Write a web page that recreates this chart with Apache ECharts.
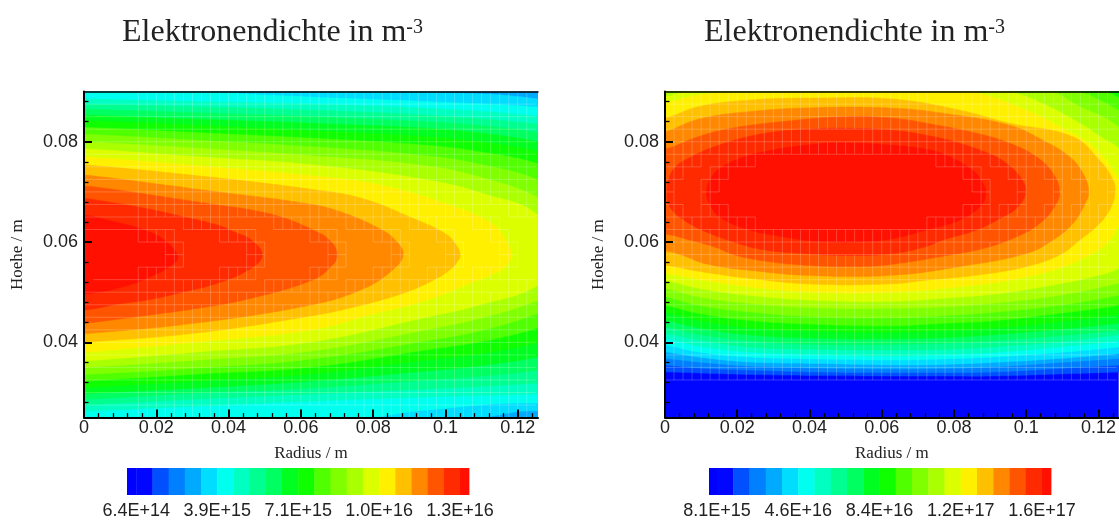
<!DOCTYPE html>
<html><head><meta charset="utf-8">
<style>html,body{margin:0;padding:0;background:#fff}#c{width:1119px;height:522px}</style>
<script src="https://cdn.jsdelivr.net/npm/echarts@6/dist/echarts.min.js"></script>
</head><body><div id="c"></div>
<script>
// ---- colour bands, lowest to highest ----
const bandColors = ['#0000ff','#0006ff','#0050ff','#0080ff','#00aaff','#00ddff','#00ffee','#00ffc0','#00ff90','#00ff60','#00ff20','#10ff00','#50ff00','#80ff00','#aaff00','#dcff00','#fff000','#ffc000','#ff8800','#ff5500','#ff2a00','#ff1000'];
// contour levels (m^-3): one level starts each band above band 0
const leftLevels = [6.42e14,1.284e15,1.926e15,2.568e15,3.21e15,3.852e15,4.494e15,5.136e15,5.778e15,6.42e15,7.062e15,7.704e15,8.346e15,8.988e15,9.63e15,1.0272e16,1.0914e16,1.1556e16,1.2198e16,1.284e16,1.348e16];
const rightLevels = [8.1e15,1.57e16,2.33e16,3.09e16,3.85e16,4.61e16,5.37e16,6.13e16,6.89e16,7.65e16,8.41e16,9.17e16,9.93e16,1.069e17,1.145e17,1.221e17,1.297e17,1.373e17,1.449e17,1.525e17,1.601e17];
const leftLegendRange = [2.75e14,1.3836e16];
const rightLegendRange = [4.36e15,1.643e17];
const xMajorTicks = [0,0.02,0.04,0.06,0.08,0.1,0.12];
const xMinorTicks = [0.004,0.008,0.012,0.016,0.024,0.028,0.032,0.036,0.044,0.048,0.052,0.056,0.064,0.068,0.072,0.076,0.084,0.088,0.092,0.096,0.104,0.108,0.112,0.116,0.124];
const yMajorTicks = [0.04,0.06,0.08];
const yMinorTicks = [0.028,0.032,0.036,0.044,0.048,0.052,0.056,0.064,0.068,0.072,0.076,0.084,0.088];

// ---- contour outlines: [radius mm, height mm] ----
const leftL05=[[0,92],[60,91],[93,90],[125.6,88.5],[132,86],[132,24],[125.6,26.3],[110.4,25],[90,23],[0,23]];
const leftL06=[[0,92],[20,91],[33.6,90],[63.1,88.9],[94.7,88],[125.6,86.9],[132,86],[132,26],[125.6,27.9],[94.7,26.5],[80,25],[60,23],[0,23]];
const leftL07=[[0,88.5],[31.6,88],[63.1,87.5],[94.7,86.7],[125.6,85.1],[132,84],[132,30],[125.6,29.7],[94.7,29.1],[63.1,28.3],[31.6,27.3],[0,26.3]];
const leftL08=[[0,87.5],[31.6,87],[63.1,86.3],[94.7,85.3],[125.6,83.5],[132,82.3],[132,32.5],[125.6,31.9],[94.7,30.7],[63.1,29.7],[31.6,28.7],[0,27.5]];
const leftL09=[[0,86.5],[31.6,85.8],[63.1,85],[94.7,84],[110.2,83.2],[125.6,81.8],[132,80.5],[132,36],[125.6,34.5],[110.2,33.3],[94.7,32.5],[63.1,30.9],[31.6,29.9],[0,28.6]];
const leftL10=[[0,85.3],[31.6,84.5],[63.1,83.7],[94.7,82.7],[110.2,81.7],[125.6,80],[132,78.5],[132,38.5],[125.6,37.1],[110.2,35.4],[94.7,34.3],[63.1,32.3],[31.6,30.9],[0,29.8]];
const leftL11=[[0,84.2],[31.6,83.3],[63.1,82.2],[94.7,81],[110.2,79.9],[125.6,78],[132,76],[132,41.5],[125.6,39.9],[110.2,37.8],[94.7,36.5],[63.1,33.7],[31.6,32.3],[0,31]];
const leftL12=[[0,82.9],[31.6,81.8],[63.1,80.7],[94.7,79.3],[110.2,77.9],[125.6,75.6],[132,73],[132,45],[125.6,42.9],[110.2,40.2],[94.7,38.5],[63.1,35.1],[31.6,33.7],[0,32.3]];
const leftL13=[[0,81.5],[31.6,80.3],[63.1,79],[94.7,77.2],[110.2,75.4],[125.6,72.4],[132,69],[132,48],[125.6,45.8],[110.2,42.4],[94.7,40.3],[63.1,36.7],[31.6,34.9],[0,33.6]];
const leftL14=[[0,80],[31.6,78.7],[63.1,77.2],[94.7,75.2],[110.2,72.8],[125.6,68.9],[132,65],[132,51],[125.6,48.4],[110.2,44.9],[94.7,42.5],[63.1,38.3],[31.6,36.5],[0,35]];
const leftL15=[[0,78.6],[31.6,77],[63.1,75.4],[94.7,72.4],[110.2,69.7],[125.6,65.4],[132,57],[125.6,51.4],[110.2,47.6],[94.7,45],[63.1,40.1],[31.6,38.1],[0,36.3]];
const leftL16=[[0,77],[31.6,75.2],[63.1,73.2],[81.7,71.4],[99.9,67.7],[112.9,63.7],[116.6,60.5],[118.4,57.4],[117.6,56],[115.9,54.6],[106.8,51.8],[94.7,48.4],[79.2,45.5],[63.1,42.5],[31.6,40.1],[0,38]];
const leftL17=[[0,75.4],[31.6,73.2],[63.1,70.5],[77,68.7],[90.8,64.8],[99.9,61.7],[102.8,59.6],[104.1,57.4],[103.2,56],[102.1,55],[97.7,52.8],[88.3,49.8],[74.5,47],[63.1,45.3],[31.6,41.9],[0,40]];
const leftL18=[[0,73.4],[31.6,70.5],[63.1,67.5],[72.3,65.7],[81.7,62.7],[86.1,60.4],[88.3,57.4],[84.7,54],[76.4,50.4],[63.1,47.5],[31.6,43.9],[0,41.7]];
const leftL19=[[0,71.2],[9.2,70.4],[18.6,69.4],[27.7,68.4],[36.9,67.4],[46.3,66.4],[55.4,64.8],[63.1,62.5],[67.9,60.4],[70.1,57.4],[67.9,54.8],[63.1,52.4],[46.3,48.8],[31.6,46.8],[18.6,45.5],[0,43.8]];
const leftL20=[[0,68.7],[9.2,67.7],[18.6,66.5],[27.7,65],[36.9,63.4],[41.6,62],[46.3,60.4],[49.3,57.4],[46.3,54.8],[36.9,51.8],[27.7,50.1],[18.6,48.6],[9.2,47.6],[0,46.4]];
const leftL21=[[0,65.4],[9.2,63.9],[16.7,62.4],[22.2,60.4],[25.8,57.4],[25,55.8],[17.5,52.8],[9.2,50.8],[0,49.6]];

const rightL02=[[0,34.1],[9.2,33.9],[23.1,33.6],[41.5,33.4],[63.1,33.3],[76.9,33.3],[90.8,33.3],[109.2,33.7],[125.6,34.1],[132,34.4],[132,93],[0,93]];
const rightL03=[[0,35.5],[9.2,34.9],[23.1,34.5],[41.5,34.1],[63.1,34],[76.9,34],[90.8,34.1],[109.2,34.8],[125.6,35.5],[132,35.8],[132,93],[0,93]];
const rightL04=[[0,36.8],[9.2,36.1],[23.1,35.3],[41.5,34.9],[63.1,34.7],[76.9,34.8],[90.8,35.1],[109.2,36],[125.6,36.8],[132,37.2],[132,93],[0,93]];
const rightL05=[[0,38.1],[9.2,37.1],[23.1,36.1],[41.5,35.8],[63.1,35.5],[76.9,35.6],[90.8,36],[109.2,36.8],[125.6,37.8],[132,38.3],[132,93],[0,93]];
const rightL06=[[0,39.5],[9.2,38.1],[23.1,37.1],[41.5,36.7],[63.1,36.5],[76.9,36.7],[90.8,37.1],[109.2,38],[125.6,39.1],[132,39.7],[132,93],[0,93]];
const rightL07=[[0,40.8],[9.2,39.3],[23.1,38.1],[41.5,37.6],[63.1,37.3],[76.9,37.6],[90.8,38],[109.2,39.1],[125.6,40.3],[132,41],[132,93],[0,93]];
const rightL08=[[0,41.8],[9.2,40.5],[23.1,39.1],[41.5,38.6],[63.1,38.5],[76.9,38.6],[90.8,39.1],[109.2,40.1],[125.6,41.5],[132,42.2],[132,93],[0,93]];
const rightL09=[[0,43.1],[9.2,41.6],[23.1,40.3],[41.5,39.6],[63.1,39.6],[76.9,39.8],[90.8,40.3],[109.2,41.3],[125.6,42.4],[132,43],[132,93],[0,93]];
const rightL10=[[0,44.4],[9.2,42.9],[23.1,41.5],[41.5,40.8],[63.1,40.7],[76.9,40.9],[90.8,41.5],[109.2,42.6],[125.6,43.8],[132,44.5],[132,93],[0,93]];
const rightL11=[[0,46],[9.2,44.4],[23.1,42.9],[41.5,42.2],[63.1,42],[76.9,42.3],[90.8,42.8],[109.2,44.1],[125.6,45.6],[132,46.5],[132,93],[0,93]];
const rightL12=[[0,47.4],[9.2,45.8],[23.1,44.4],[41.5,43.6],[63.1,43.3],[76.9,43.8],[90.8,44.3],[109.2,45.8],[125.6,47.4],[132,48.5],[132,87],[125.6,88.8],[122.1,90],[100,93],[0,93]];
const rightL13=[[0,49.1],[9.2,47.4],[23.1,46.1],[41.5,45.1],[63.1,44.9],[76.9,45.3],[90.8,46],[109.2,47.4],[125.6,49.4],[132,50.5],[132,84],[125.6,86.3],[120.3,88.3],[114.8,90],[100,93],[0,93]];
const rightL14=[[0,50.8],[9.2,49.1],[23.1,47.8],[41.5,46.9],[63.1,46.8],[76.9,47.1],[90.8,47.8],[109.2,49.4],[125.6,51.8],[132,53],[132,80],[125.6,83],[121.2,85],[114.8,87],[107.2,90],[90,93],[0,93]];
const rightL15=[[0,52.4],[9.2,50.8],[23.1,49.4],[41.5,48.4],[63.1,48.2],[76.9,48.8],[90.8,49.6],[104.6,51.1],[118.5,53.1],[125.6,54.8],[132,58],[132,72],[125.6,78.7],[122.1,80.3],[114.8,83.7],[104.6,87.6],[95.4,90],[80,92],[20,92],[5.5,90],[0,89]];
const rightL16=[[0,87.7],[9.2,89.3],[23.1,89.9],[32.8,90],[60,91.5],[84.3,90],[100,86.3],[109.2,83],[118.5,79],[125.6,72.7],[127.7,70],[127,66],[125,62.5],[122,59.5],[117.5,57.4],[109.2,54.8],[95.4,52.4],[81.6,51.1],[63.1,50],[41.5,50],[23.1,51.1],[9.2,52.6],[0,53.8]];
const rightL17=[[0,84.7],[9.2,87],[23.1,88.3],[41.5,88.7],[63.1,88.5],[81.6,86.3],[95.4,83.7],[112.9,81],[120.3,76.3],[124,72.4],[124.6,70],[123.5,67],[120.3,63.7],[114.8,60.4],[109.2,57.4],[100,55.1],[86.2,53.4],[72.3,52.4],[63.1,51.7],[41.5,51.6],[23.1,52.8],[9.2,54.2],[0,55.4]];
const rightL18=[[0,82],[9.2,84.5],[23.1,86],[41.5,86.8],[63.1,86.7],[76.9,85.7],[95.4,83.3],[104.6,80.3],[112,77],[115.7,73.7],[117.3,70],[116.1,67.4],[112.9,63.7],[107.4,60.4],[100,57.7],[81.6,55.1],[63.1,53.4],[41.5,53.3],[23.1,54.4],[11.1,55.7],[4.6,57.4],[0,58.2]];
const rightL19=[[0,78.5],[9.2,81],[18.5,82.7],[32.3,84],[49.8,85],[63.1,84.7],[72.3,83.7],[86.2,81.7],[95.4,79.7],[102.8,77],[107.4,73.7],[109.2,70],[107.8,67],[103.7,63.7],[97.2,61],[88,58.7],[78.8,57.4],[63.1,55.6],[52.6,55.1],[38.8,55.4],[27.7,56.2],[19.4,57.4],[13.8,59],[7.4,60.3],[0,61.6]];
const rightL20=[[0.5,70],[1,72.5],[2.8,74.9],[6.5,76.7],[14.8,79.3],[27.7,81.7],[39.7,82.5],[49.8,82.7],[63.1,82.3],[72.3,81.3],[81.6,79.7],[90.8,77.3],[94.5,75.7],[98.6,72.7],[99.8,70],[97.7,67],[93.5,65],[86.2,62.4],[76.9,60.4],[72.3,59.1],[63.1,57.7],[49.8,57.3],[38.8,57.7],[27.7,58.4],[18.5,60.1],[11.1,62.1],[7.4,63.4],[4.6,64.7],[2.8,65.7],[1,67.5]];
const rightL21=[[11.5,70],[12.5,72.4],[15.2,74.7],[22.1,77],[29.5,78.3],[38.8,79.3],[48,79.8],[63.1,79.3],[72.3,78.5],[77.9,77.3],[85.2,74.3],[88,71.7],[88.8,70],[87.6,67.4],[81.6,64.4],[72.3,62.4],[63.1,60.7],[55.4,60.1],[43.4,60.1],[32.3,61.1],[22.1,62.7],[15.2,65],[12.5,67.4]];

const leftContours = [[5,leftL05],[6,leftL06],[7,leftL07],[8,leftL08],[9,leftL09],[10,leftL10],[11,leftL11],[12,leftL12],[13,leftL13],[14,leftL14],[15,leftL15],[16,leftL16],[17,leftL17],[18,leftL18],[19,leftL19],[20,leftL20],[21,leftL21]];
const rightContours = [[2,rightL02],[3,rightL03],[4,rightL04],[5,rightL05],[6,rightL06],[7,rightL07],[8,rightL08],[9,rightL09],[10,rightL10],[11,rightL11],[12,rightL12],[13,rightL13],[14,rightL14],[15,rightL15],[16,rightL16],[17,rightL17],[18,rightL18],[19,rightL19],[20,rightL20],[21,rightL21]];

// polygons that touch the r=0 edge are carried a little past it so the edge stays filled
function extend(poly){
  const out = poly.slice();
  if(out[0][0]===0) out.unshift([-4,out[0][1]]);
  if(out[out.length-1][0]===0) out.push([-4,out[out.length-1][1]]);
  return out;
}
function inside(poly,x,y){
  let c=false;
  for(let i=0,j=poly.length-1;i<poly.length;j=i++){
    const a=poly[i],b=poly[j];
    if((a[1]>y)!==(b[1]>y) && x<(b[0]-a[0])*(y-a[1])/(b[1]-a[1])+a[0]) c=!c;
  }
  return c;
}
// The source mesh (2.5 mm cells) shows a faint seam wherever a cell is crossed by a contour.
function meshSeams(contours,firstCol){
  const polys=contours.map(c=>extend(c[1]));
  const nx=50,j0=10,j1=36;
  const band=(i,j)=>{let b=0;polys.forEach((p,k)=>{if(inside(p,i*2.5,j*2.5))b=k+1;});return b;};
  const B={};
  for(let i=0;i<=nx;i++)for(let j=j0;j<=j1;j++)B[i+'_'+j]=band(i,j);
  const mixed=(i,j)=>{ if(i<0||i>=nx||j<j0||j>=j1) return false;
    const a=B[i+'_'+j];return B[(i+1)+'_'+j]!==a||B[i+'_'+(j+1)]!==a||B[(i+1)+'_'+(j+1)]!==a;};
  const seams=[];
  for(let i=1;i<nx;i++)for(let j=j0;j<j1;j++)
    if(i>=firstCol&&(mixed(i-1,j)||mixed(i,j)))seams.push([i*2.5,j*2.5,i*2.5,(j+1)*2.5]);
  for(let j=j0+1;j<j1;j++)for(let i=0;i<nx;i++)
    if(mixed(i,j-1)||mixed(i,j))seams.push([i*2.5,j*2.5,(i+1)*2.5,j*2.5]);
  return seams;
}

const serif='"Liberation Serif","Times New Roman",serif', sans='"Liberation Sans",Arial,sans-serif';
const grids=[],xAxes=[],yAxes=[],series=[],titles=[];
const axisMaxX=0.1256;

function addPlot(left,bgBand,contours,levels,range,legendLeft,titleLeft,firstCol){
  const g=grids.length;
  grids.push({left:left,top:91.6,width:454,height:326,show:true,backgroundColor:bandColors[bgBand],borderWidth:0});
  const x0=xAxes.length,y0=yAxes.length;
  const base={type:'value',gridIndex:g,min:0,max:axisMaxX,splitLine:{show:false},z:5};
  xAxes.push(Object.assign({},base,{position:'bottom',name:'Radius / m',nameLocation:'middle',nameGap:27,
    nameTextStyle:{fontFamily:serif,fontSize:17,color:'#222'},
    axisLine:{show:true,onZero:false,lineStyle:{color:'#000',width:2}},
    axisTick:{show:true,inside:true,length:8,customValues:xMajorTicks,lineStyle:{color:'#000',width:2}},
    axisLabel:{show:true,customValues:xMajorTicks,margin:1,formatter:v=>String(v),fontFamily:sans,fontSize:18,color:'#222',showMinLabel:true,hideOverlap:false}}));
  xAxes.push(Object.assign({},base,{position:'bottom',
    axisLine:{show:false,onZero:false},
    axisTick:{show:true,inside:true,length:4.5,customValues:xMinorTicks,lineStyle:{color:'#000',width:1.3}},
    axisLabel:{show:false}}));
  xAxes.push(Object.assign({},base,{position:'top',
    axisLine:{show:true,onZero:false,lineStyle:{color:'#000',width:1.5}},axisTick:{show:false},axisLabel:{show:false}}));
  const ybase={type:'value',gridIndex:g,min:0.025,max:0.09,splitLine:{show:false},z:5};
  yAxes.push(Object.assign({},ybase,{position:'left',name:'Hoehe / m',nameLocation:'middle',nameGap:58,
    nameTextStyle:{fontFamily:serif,fontSize:17,color:'#222'},
    axisLine:{show:true,onZero:false,lineStyle:{color:'#000',width:2}},
    axisTick:{show:true,inside:true,length:8,customValues:yMajorTicks,lineStyle:{color:'#000',width:2}},
    axisLabel:{show:true,customValues:yMajorTicks,margin:6,formatter:v=>String(v),fontFamily:sans,fontSize:18,color:'#222'}}));
  yAxes.push(Object.assign({},ybase,{position:'left',
    axisLine:{show:false,onZero:false},
    axisTick:{show:true,inside:true,length:4.5,customValues:yMinorTicks,lineStyle:{color:'#000',width:1.3}},
    axisLabel:{show:false}}));

  series.push({type:'custom',xAxisIndex:x0,yAxisIndex:y0,clip:true,silent:true,z:2,animation:false,
    data:contours.map((c,i)=>[i]),
    renderItem:(p,api)=>{
      const c=contours[api.value(0)];
      const pts=extend(c[1]).map(q=>api.coord([q[0]/1000,q[1]/1000]));
      return {type:'polygon',shape:{points:pts,smooth:0.42},style:{fill:bandColors[c[0]],stroke:bandColors[c[0]],lineWidth:0.5}};
    }});
  const seams=meshSeams(contours,firstCol);
  series.push({type:'custom',xAxisIndex:x0,yAxisIndex:y0,clip:true,silent:true,z:3,animation:false,
    data:seams,
    renderItem:(p,api)=>{
      const a=api.coord([api.value(0)/1000,api.value(1)/1000]),b=api.coord([api.value(2)/1000,api.value(3)/1000]);
      return {type:'line',shape:{x1:a[0],y1:a[1],x2:b[0],y2:b[1]},style:{stroke:'rgba(255,255,255,0.21)',lineWidth:1}};
    }});

  // colour legend
  const lg=grids.length, lx=xAxes.length, ly=yAxes.length;
  grids.push({left:legendLeft,top:468,width:342,height:27,borderWidth:0});
  const labelled=[levels[0],levels[5],levels[10],levels[15],levels[20]];
  xAxes.push({type:'value',gridIndex:lg,min:range[0],max:range[1],position:'bottom',splitLine:{show:false},
    axisLine:{show:false,onZero:false},axisTick:{show:false},
    axisLabel:{show:true,customValues:labelled,margin:7,fontFamily:sans,fontSize:18,color:'#222',
      formatter:v=>v.toExponential(1).toUpperCase()}});
  yAxes.push({type:'value',gridIndex:lg,min:0,max:1,show:false});
  const edges=[range[0]].concat(levels,[range[1]]);
  series.push({type:'custom',xAxisIndex:lx,yAxisIndex:ly,silent:true,animation:false,
    data:bandColors.map((c,i)=>[edges[i],edges[i+1],i]),
    renderItem:(p,api)=>{
      const a=api.coord([api.value(0),1]),b=api.coord([api.value(1),0]);
      return {type:'rect',shape:{x:a[0],y:a[1],width:b[0]-a[0]+0.4,height:b[1]-a[1]},style:{fill:bandColors[api.value(2)]}};
    }});

  titles.push({text:'{a|Elektronendichte in m}{b|-3}',left:titleLeft,top:18,padding:0,
    textStyle:{fontWeight:'normal',rich:{a:{fontFamily:serif,fontWeight:'normal',fontSize:32,color:'#222',lineHeight:31,verticalAlign:'bottom'},
      b:{fontFamily:serif,fontWeight:'normal',fontSize:20,color:'#222',lineHeight:31,verticalAlign:'top'}}}});
}
addPlot(84,4,leftContours,leftLevels,leftLegendRange,127,122,6);
addPlot(665,1,rightContours,rightLevels,rightLegendRange,709,704,1);

const chart=echarts.init(document.getElementById('c'),null,{renderer:'canvas'});
chart.setOption({animation:false,backgroundColor:'#fff',title:titles,grid:grids,xAxis:xAxes,yAxis:yAxes,series:series});
</script></body></html>
